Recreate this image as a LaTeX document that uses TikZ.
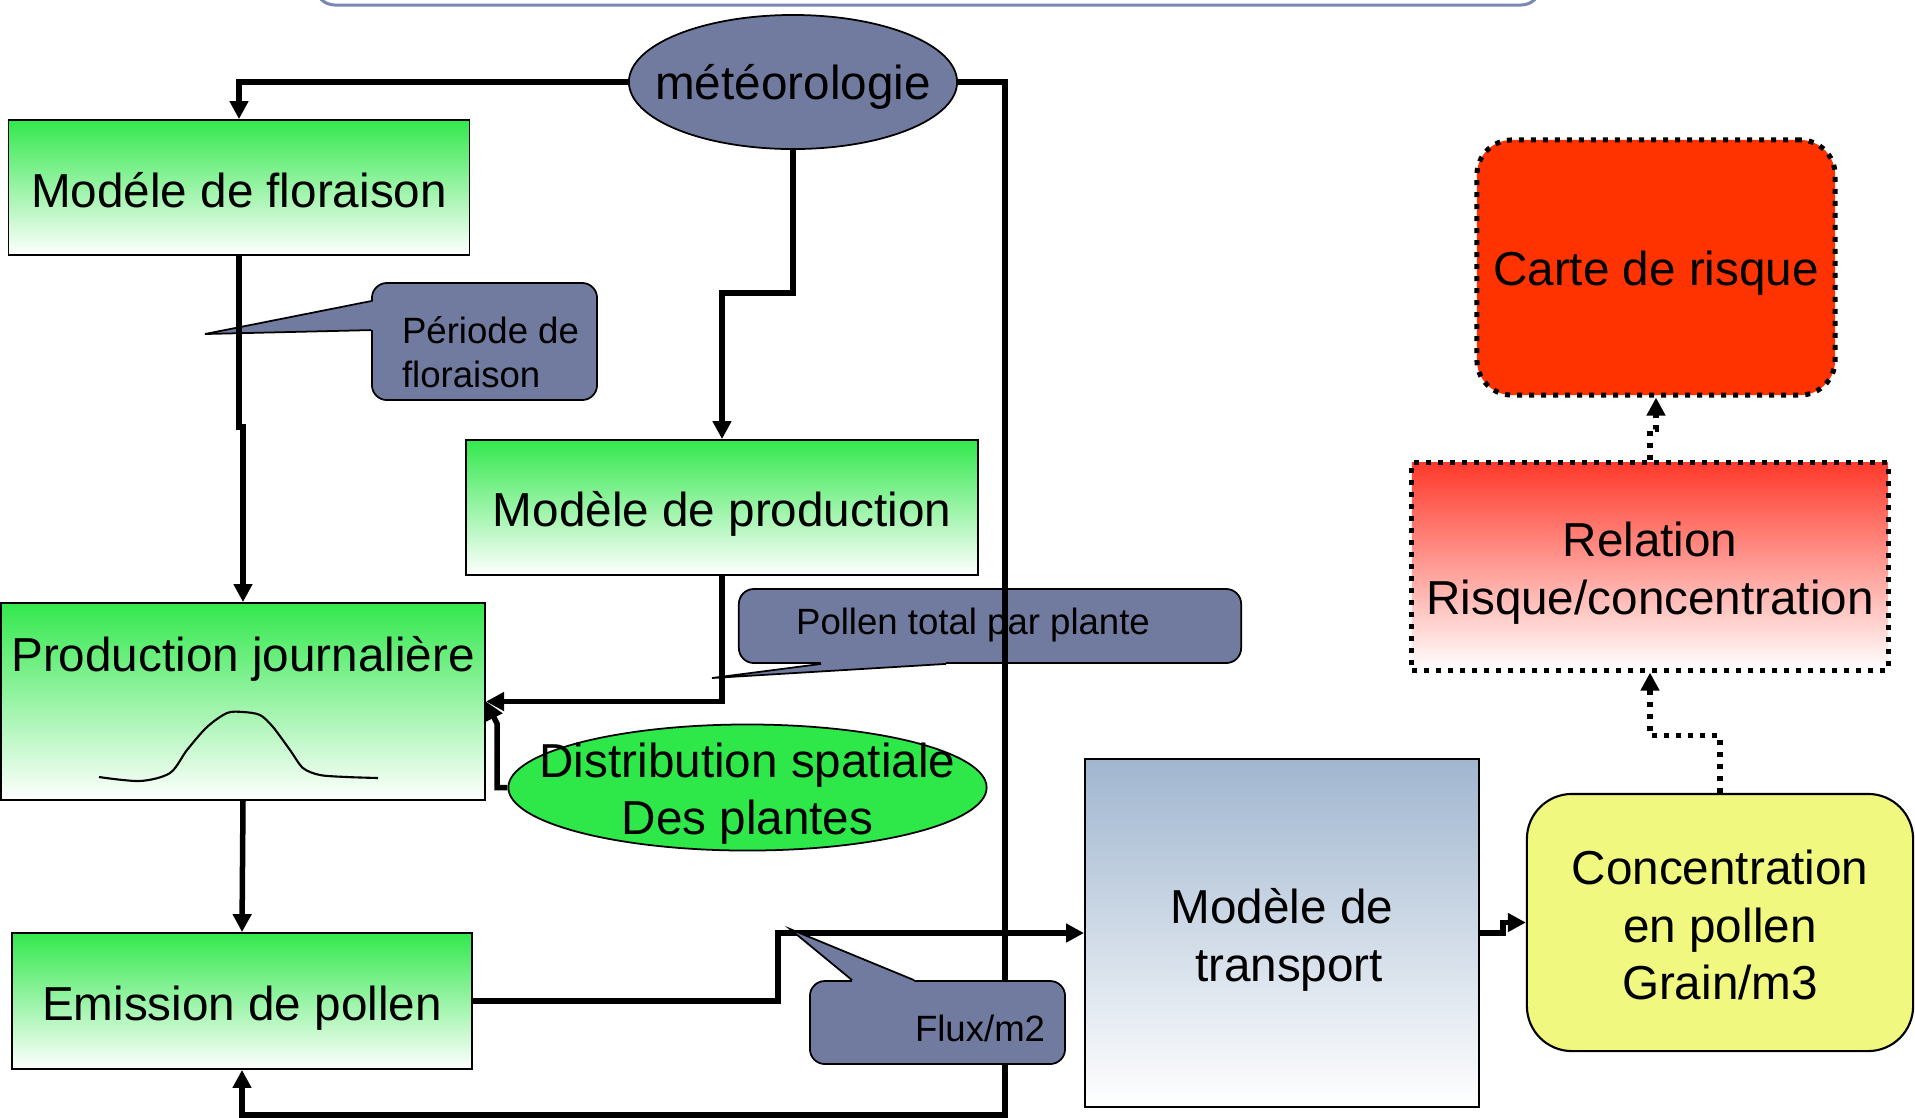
\documentclass[tikz,border=0pt]{standalone}
\usepackage{fontspec}
\setmainfont{Liberation Sans}
\usetikzlibrary{shapes.geometric,arrows.meta,calc}
\definecolor{gtop}{RGB}{51,232,77}
\definecolor{distfill}{RGB}{46,232,74}
\definecolor{calfill}{RGB}{113,123,160}
\definecolor{ttop}{RGB}{160,182,207}
\definecolor{reltop}{RGB}{255,58,44}
\definecolor{cartefill}{RGB}{255,51,0}
\definecolor{concfill}{RGB}{240,248,128}
\definecolor{topline}{RGB}{122,134,184}
\newcommand{\tx}[2][2.2pt]{\raisebox{-#1}[\height][\depth]{\begin{tabular}{@{}c@{}}#2\end{tabular}}}
\newcommand{\txl}[2][2.2pt]{\raisebox{-#1}[\height][\depth]{\begin{tabular}{@{}l@{}}#2\end{tabular}}}
\begin{document}
\begin{tikzpicture}[x=0.01cm,y=-0.01cm,
  big/.style={font=\fontsize{13.55}{16.4}\selectfont},
  small/.style={font=\fontsize{10.4}{12.5}\selectfont},
  gbox/.style={draw=black,line width=0.5pt,top color=gtop,bottom color=white,inner sep=0pt,big},
  conn/.style={line width=0.055cm,-{Triangle[length=0.18cm,width=0.18cm]}},
  dotborder/.style={draw=black,line width=0.05cm,dash pattern=on 0.05cm off 0.07cm},
  dotconn/.style={conn,dash pattern=on 0.05cm off 0.07cm},
  callout/.style={fill=calfill,draw=black,line width=0.5pt,rounded corners=0.15cm,inner sep=0pt,small},
  tailedge/.style={draw=black,line width=0.5pt},
]
\useasboundingbox (0,0) rectangle (1915,1117);

% top cut-off frame
\draw[topline,line width=0.03cm,rounded corners=0.2cm] (315,-40) -- (315,5) -- (1541,5) -- (1541,-40);

% main boxes
\node[ellipse,draw=black,line width=0.5pt,fill=calfill,minimum width=3.28cm,minimum height=1.34cm,inner sep=0pt,
      label={[big]center:\tx[1.6pt]{météorologie}}] (meteo) at (793,82) {};
\node[gbox,minimum width=4.605cm,minimum height=1.35cm] (flor) at (239,187.5) {\tx[2.3pt]{Modéle de floraison}};
\node[gbox,minimum width=5.12cm,minimum height=1.35cm] (prod) at (722,507.5) {\tx{Modèle de production}};
\node[gbox,minimum width=4.84cm,minimum height=1.97cm] (journ) at (243,701.5) {};
\node[big,anchor=base,inner sep=0pt] (journtxt) at (243,671) {Production journalière};
\draw[line width=0.6pt] plot[smooth] coordinates {(99,777) (140,781) (170,773) (187,750) (207,727) (227,713) (243,712) (260,715) (273,727) (290,750) (303,768) (320,775) (347,777) (378,778)};
\node[gbox,minimum width=4.6cm,minimum height=1.36cm] (emis) at (242,1001) {\tx{Emission de pollen}};
\node[ellipse,draw=black,line width=0.5pt,fill=distfill,minimum width=4.78cm,minimum height=1.26cm,inner sep=0pt,
      label={[big]center:\tx[2pt]{Distribution spatiale\\Des plantes}}] (distr) at (747.5,787.5) {};
\node[draw=black,line width=0.5pt,top color=ttop,bottom color=white,minimum width=3.94cm,minimum height=3.48cm,
      inner sep=0pt,big] (trans) at (1282,933) {\tx{Modèle de\\\hspace*{0.14cm}transport}};
\node[draw=black,line width=0.6pt,fill=concfill,rounded corners=0.45cm,minimum width=3.86cm,minimum height=2.57cm,
      inner sep=0pt,big] (conc) at (1720,922.5) {\tx[2.3pt]{Concentration\\en pollen\\Grain/m3}};
\node[dotborder,top color=reltop,bottom color=white,minimum width=4.76cm,minimum height=2.07cm,
      inner sep=0pt,big] (rel) at (1650,566.5) {\tx{Relation\\Risque/concentration}};
\node[dotborder,fill=cartefill,rounded corners=0.35cm,minimum width=3.58cm,minimum height=2.55cm,
      inner sep=0pt,big] (carte) at (1656,267.5) {\tx[1.9pt]{Carte de risque}};

% callouts under the connectors
\node[callout,minimum width=2.25cm,minimum height=1.17cm] (per) at (484.5,341.5) {\hspace*{0.12cm}\txl[4.3pt]{Période de\\floraison}};
\coordinate (pertip) at (205,334);
\fill[calfill] ($(per.north west)+(4,19)$) -- (pertip) -- ($(per.north west)+(4,48)$) -- cycle;
\draw[tailedge] ($(per.north west)+(0,19)$) -- (pertip) -- ($(per.north west)+(0,48)$);

\node[callout,minimum width=5.02cm,minimum height=0.74cm] (pol) at (990,626) {\tx[0pt]{Pollen total par plante}\hspace*{0.34cm}};
\coordinate (poltip) at (712,678);
\fill[calfill] ($(pol.south west)+(83,-4)$) -- ($(pol.south west)+(83,0)$) -- (poltip) -- ($(pol.south west)+(208,0)$) -- ($(pol.south west)+(208,-4)$) -- cycle;
\draw[tailedge] ($(pol.south west)+(83,0)$) -- (poltip) -- ($(pol.south west)+(208,0)$);

% connectors
\draw[conn] (meteo.west) -| (flor.north);
\draw[conn] (meteo.south) |- ($(prod.north)+(0,-146)$) -- (prod.north);
\draw[conn] (meteo.east) -| (1005,1115) -| (emis.south);
\draw[conn] (flor.south) |- ($(journ.north)+(0,-175)$) -- (journ.north);
\draw[conn] (prod.south) |- (journ.east);
\draw[conn] (distr.west) -| ($(journ.east)+(11,22)$) -- (journ.east);
\draw[conn] (journ.south) -- (emis.north);
\draw[conn] (emis.east) -| ($(trans.west)+(-306,0)$) -- (trans.west);
\draw[conn] (trans.east) -- ++(23,0) |- (conc.west);
\draw[dotconn] (conc.north) |- ($(rel.south)+(0,63)$) -- (rel.south);
\draw[dotconn] (rel.north) |- ($(carte.south)+(0,32)$) -- (carte.south);

% callout over the connectors
\node[callout,minimum height=0.83cm,inner xsep=0.2cm,text width=2.15cm,align=right] (flux) at (937.5,1022.5) {\tx[2.8pt]{Flux/m2}};
\coordinate (fluxtip) at (790,929);
\fill[calfill] ($(flux.north west)+(43,4)$) -- ($(flux.north west)+(43,0)$) -- (fluxtip) -- ($(flux.north west)+(105,0)$) -- ($(flux.north west)+(105,4)$) -- cycle;
\draw[tailedge] ($(flux.north west)+(43,0)$) -- (fluxtip) -- ($(flux.north west)+(105,0)$);
\end{tikzpicture}
\end{document}
